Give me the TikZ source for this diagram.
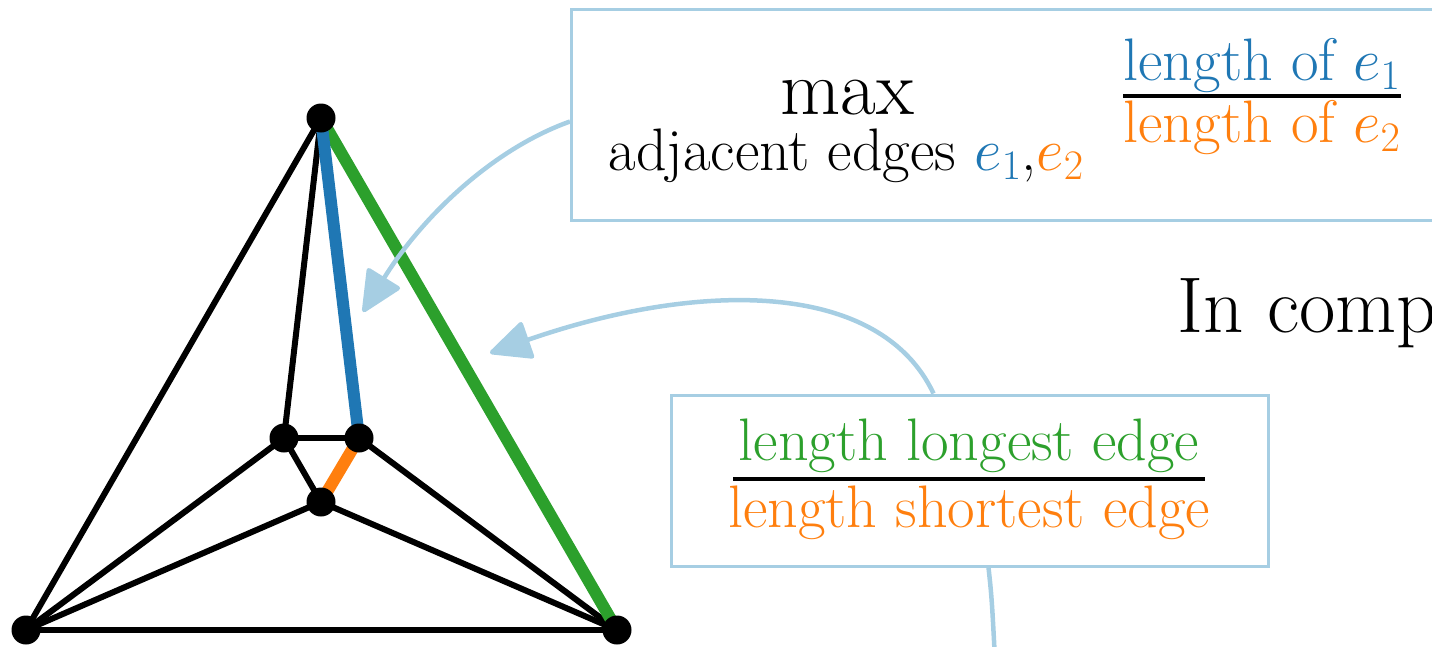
\RequirePackage{fix-cm}
\documentclass[tikz,border=0pt]{standalone}
\usepackage{amsmath}
\usepackage{tikz}
\usetikzlibrary{arrows.meta,positioning,calc,backgrounds}
\definecolor{plotBlue}{RGB}{31,119,180}
\definecolor{plotOrange}{RGB}{255,127,14}
\definecolor{plotGreen}{RGB}{44,160,44}
\definecolor{hintBlue}{RGB}{166,206,227}
\tikzset{
  vtx/.style={
    circle, fill=black,
    minimum size=29pt, inner sep=0pt
  },
  graphedge/.style={line width=6pt, draw=black},
  hiedge/.style={line width=12pt, draw=#1},
  infobox/.style={
    rectangle, draw=hintBlue, line width=3pt,
    inner sep=0pt
  },
  lbl/.style={
    inner sep=0pt,
    font=\fontsize{60}{72}\selectfont
  },
  fracbar/.style={line width=3.5pt, draw=black},
  hint/.style={-{Triangle[length=44pt,width=40pt,round]}, line width=4.5pt, draw=hintBlue},
}
\begin{document}
\begin{tikzpicture}[x=1pt, y=-1pt]
  \useasboundingbox (0,0) rectangle (1432,646);

  % Graph vertices
  \node[vtx] (top) at (321,118) {};
  \node[vtx] (bl)  at (26,630)  {};
  \node[vtx] (br)  at (617,630) {};
  \node[vtx] (il)  at (284,438) {};
  \node[vtx] (ir)  at (359,438) {};
  \node[vtx] (ib)  at (321,502) {};

  % Graph edges
  \begin{scope}[on background layer]
    \draw[graphedge] (top.center) -- (bl.center);
    \draw[graphedge] (top.center) -- (il.center);
    \draw[graphedge] (il.center)  -- (ir.center);
    \draw[graphedge] (il.center)  -- (ib.center);
    \draw[graphedge] (il.center)  -- (bl.center);
    \draw[graphedge] (ir.center)  -- (br.center);
    \draw[graphedge] (ib.center)  -- (bl.center);
    \draw[graphedge] (ib.center)  -- (br.center);
    \draw[graphedge] (bl.center)  -- (br.center);
    \draw[hiedge=plotGreen]  (top.center) -- (br.center);
    \draw[hiedge=plotBlue]   (top.center) -- (ir.center);
    \draw[hiedge=plotOrange] (ir.center)  -- (ib.center);
  \end{scope}

  % Box 1 — max ratio of adjacent edges
  \node[infobox, minimum width=900pt, minimum height=211pt, anchor=north west] (maxbox) at (570,8) {};
  \node[lbl, font=\fontsize{78}{92}\selectfont, anchor=base] (maxop) at (847,114) {max};
  \node[lbl, anchor=base] (maxsub) at (846,170)
    {adjacent edges $\textcolor{plotBlue}{e_1}$,$\textcolor{plotOrange}{e_2}$};
  \node[lbl, text=plotBlue, anchor=base]   (numA) at (1262,80)  {length of $e_1$};
  \node[lbl, text=plotOrange, anchor=base] (denA) at (1262,142) {length of $e_2$};
  \draw[fracbar] ($(numA.south west)!0.5!(denA.north west)$) -- ($(numA.south east)!0.5!(denA.north east)$);

  % Box 2 — longest over shortest
  \node[infobox, minimum width=597pt, minimum height=171pt] (ratioBox) at (969.5,480.5) {};
  \node[lbl, text=plotGreen, anchor=base]  (numB) at (969,460) {length longest edge};
  \node[lbl, text=plotOrange, anchor=base] (denB) at (969,527) {length shortest edge};
  \draw[fracbar] ($(numB.south west)!0.5!(denB.north west)$) -- ($(numB.south east)!0.5!(denB.north east)$);

  % Side text
  \node[lbl, font=\fontsize{79}{94}\selectfont, anchor=base west] (incomp) at (1177,332) {In comp};

  % Arrows
  \coordinate (tipA) at (363,312);
  \coordinate (tipB) at (490,353);
  \coordinate (below) at (997,700);
  \draw[hint] ([yshift=-6.5pt]maxbox.west) .. controls (490,150) and (420,220) .. (tipA);
  \draw[hint] ([xshift=-36pt]ratioBox.north) .. controls (880,280) and (700,280) .. (tipB);
  \draw[line width=4.5pt, draw=hintBlue] ([xshift=19pt]ratioBox.south) .. controls (992,600) .. (below);
\end{tikzpicture}
\end{document}
